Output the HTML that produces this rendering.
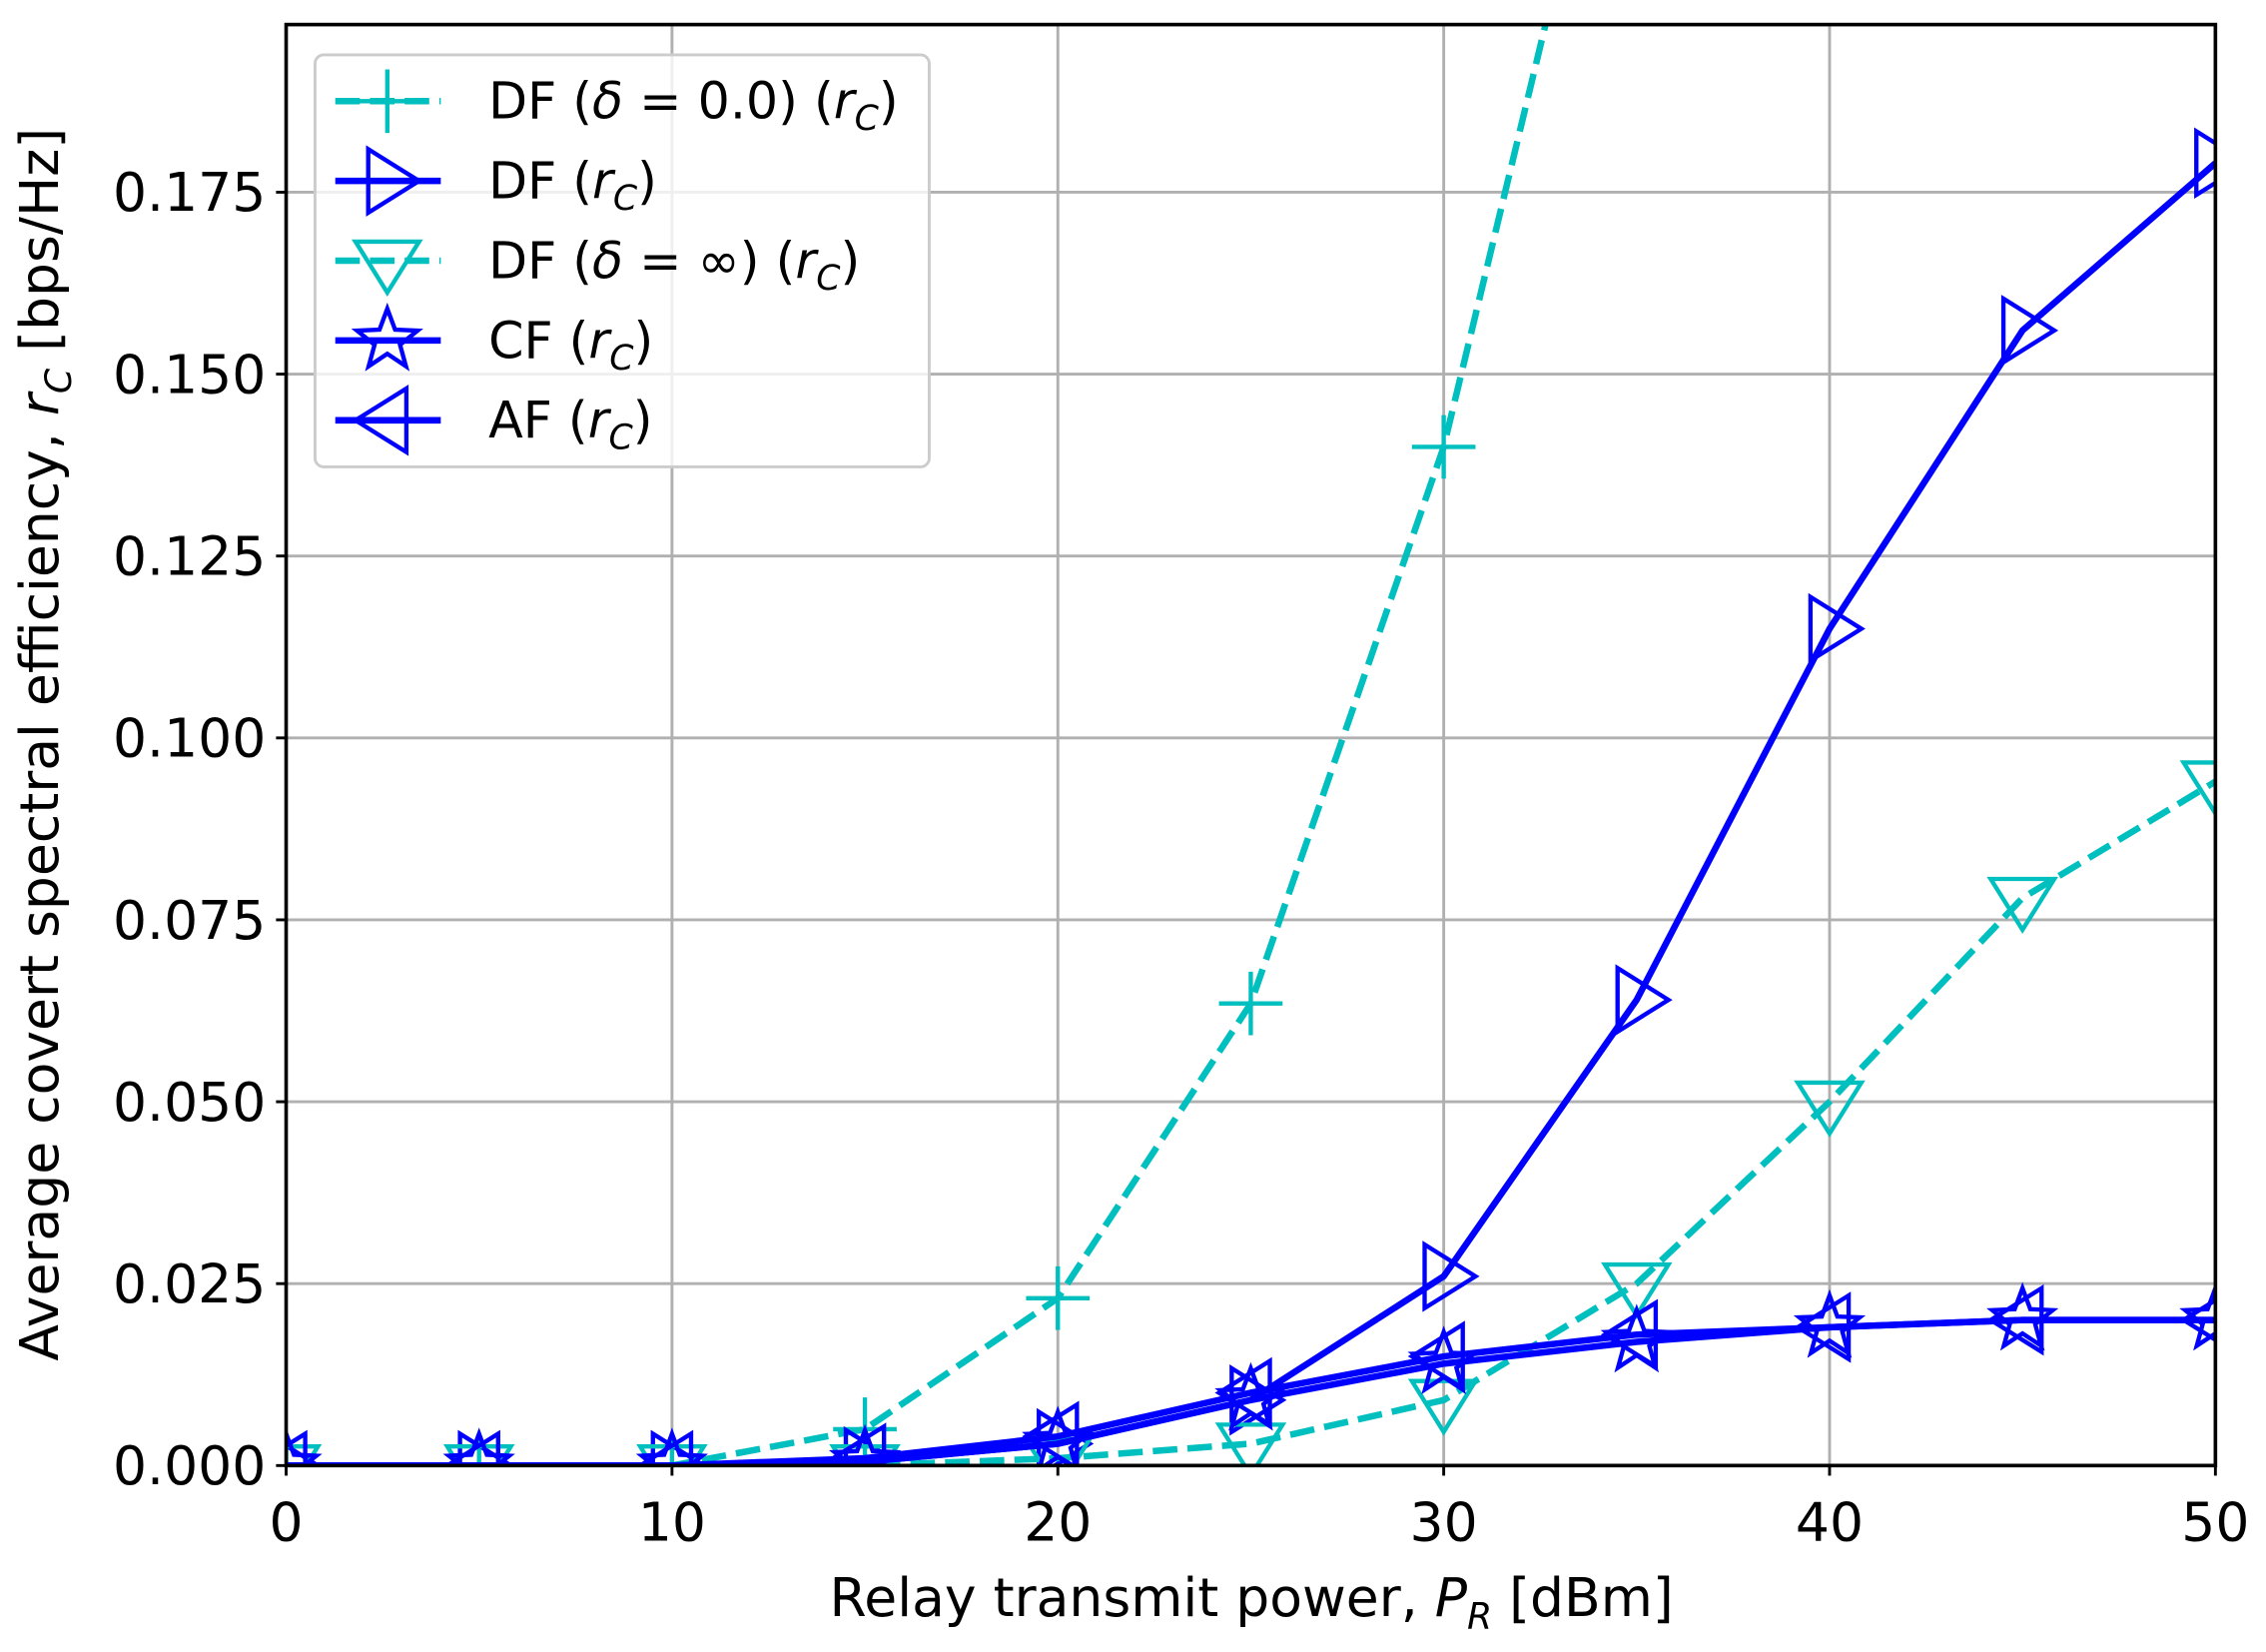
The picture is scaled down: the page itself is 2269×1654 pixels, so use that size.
<!DOCTYPE html>
<html><head><meta charset="utf-8"><style>
html,body{margin:0;padding:0;background:#fff}
svg{display:block}
text{font-family:"DejaVu Sans","Liberation Sans",sans-serif;fill:#000}
</style></head><body>
<svg id="s" width="2269" height="1654" viewBox="0 0 1568 1143" xmlns="http://www.w3.org/2000/svg">
<defs><clipPath id="c"><rect x="198" y="17" width="1335" height="997"/></clipPath></defs>
<g id="grid" stroke="#b0b0b0" stroke-width="2"></g>
<g id="data" clip-path="url(#c)"></g>
<rect x="198" y="17" width="1335" height="997" fill="none" stroke="#000" stroke-width="2.5"/>
<g id="ticks"></g>
<text x="866" y="1118" font-size="37" text-anchor="middle">Relay transmit power, <tspan font-style="italic">P</tspan><tspan font-style="italic" font-size="25" dy="9">R</tspan><tspan dy="-9"> [dBm]</tspan></text>
<text transform="translate(40,515) rotate(-90)" font-size="37" text-anchor="middle">Average covert spectral efficiency, <tspan font-style="italic">r</tspan><tspan font-style="italic" font-size="25" dy="9">C</tspan><tspan dy="-9"> [bps/Hz]</tspan></text>
<g id="leg"></g>
</svg>
<script>
const NS="http://www.w3.org/2000/svg";
function el(p,t,a,txt){const e=document.createElementNS(NS,t);for(const k in a)e.setAttribute(k,a[k]);if(txt!==undefined)e.textContent=txt;p.appendChild(e);return e;}
const X=x=>198+x*26.7, Y=y=>1014-y/0.025*125.86;
const g=document.getElementById('grid'),tk=document.getElementById('ticks');
for(let i=0;i<=5;i++){const x=X(i*10);el(g,'line',{x1:x,x2:x,y1:17,y2:1014});el(tk,'line',{x1:x,x2:x,y1:1014,y2:1021,stroke:'#000','stroke-width':2});el(tk,'text',{x:x,y:1066,'font-size':37,'text-anchor':'middle'},String(i*10));}
for(let i=0;i<=7;i++){const y=Y(i*0.025);el(g,'line',{x1:198,x2:1533,y1:y,y2:y});el(tk,'line',{x1:191,x2:198,y1:y,y2:y,stroke:'#000','stroke-width':2});el(tk,'text',{x:184,y:y+13,'font-size':37,'text-anchor':'end'},(i*0.025).toFixed(3));}
const xs=[0,5,10,15,20,25,30,35,40,45,50];
const C='#00bfbf',B='#0000ff';
const S=[
{c:C,d:true,m:'+',y:[0,0,0,0.005,0.023,0.0635,0.140,0.25,0.38,0.52,0.68]},
{c:B,d:false,m:'>',y:[0,0,0,0.0005,0.003,0.009,0.026,0.064,0.115,0.156,0.179]},
{c:C,d:true,m:'v',y:[0,0,0,0,0.001,0.003,0.009,0.025,0.050,0.078,0.094]},
{c:B,d:false,m:'*',y:[0,0,0,0.0005,0.003,0.009,0.014,0.017,0.019,0.020,0.020]},
{c:B,d:false,m:'<',y:[0,0,0,0.001,0.004,0.010,0.015,0.018,0.019,0.020,0.020]}];
function marker(p,m,x,y,c){const r=22,a={fill:'none',stroke:c,'stroke-width':3};
if(m=='+'){el(p,'path',Object.assign({d:`M${x-r} ${y}H${x+r}M${x} ${y-r}V${y+r}`},a));}
else if(m=='>'){el(p,'path',Object.assign({d:`M${x-r*0.6} ${y-r}L${x+r} ${y}L${x-r*0.6} ${y+r}Z`},a));}
else if(m=='<'){el(p,'path',Object.assign({d:`M${x+r*0.6} ${y-r}L${x-r} ${y}L${x+r*0.6} ${y+r}Z`},a));}
else if(m=='v'){el(p,'path',Object.assign({d:`M${x-r} ${y-r*0.6}L${x+r} ${y-r*0.6}L${x} ${y+r}Z`},a));}
else{let d='';for(let i=0;i<10;i++){const rr=i%2?r*0.42:r;const an=-Math.PI/2+i*Math.PI/5;d+=(i?'L':'M')+(x+rr*Math.cos(an)).toFixed(1)+' '+(y+rr*Math.sin(an)).toFixed(1);}el(p,'path',Object.assign({d:d+'Z'},a));}}
const D=document.getElementById('data');
S.forEach(s=>{el(D,'polyline',{points:xs.map((x,i)=>X(x)+','+Y(s.y[i])).join(' '),fill:'none',stroke:s.c,'stroke-width':4.5,'stroke-dasharray':s.d?'17 7':'none'});
xs.forEach((x,i)=>marker(D,s.m,X(x),Y(s.y[i]),s.c));});
const L=document.getElementById('leg');
el(L,'rect',{x:218,y:38,width:425,height:285,rx:6,fill:'#fff','fill-opacity':0.8,stroke:'#ccc','stroke-width':2});
const labs=[['DF (','δ',' = 0.0) ('],['DF (','',''],['DF (','δ',' = ∞) ('],['CF (','',''],['AF (','','']];
S.forEach((s,i)=>{const y=70+i*55.2;el(L,'line',{x1:232,x2:305,y1:y,y2:y,stroke:s.c,'stroke-width':4.5,'stroke-dasharray':s.d?'17 7':'none'});marker(L,s.m,268,y,s.c);
const t=el(L,'text',{x:338,y:y+12,'font-size':35});const l=labs[i];
t.appendChild(document.createTextNode(l[0]));
if(l[1]){el(t,'tspan',{'font-style':'italic'},'δ');t.appendChild(document.createTextNode(l[2]));}
el(t,'tspan',{'font-style':'italic'},'r');el(t,'tspan',{'font-style':'italic','font-size':24,dy:8},'C');el(t,'tspan',{dy:-8},')');});
</script>
</body></html>
